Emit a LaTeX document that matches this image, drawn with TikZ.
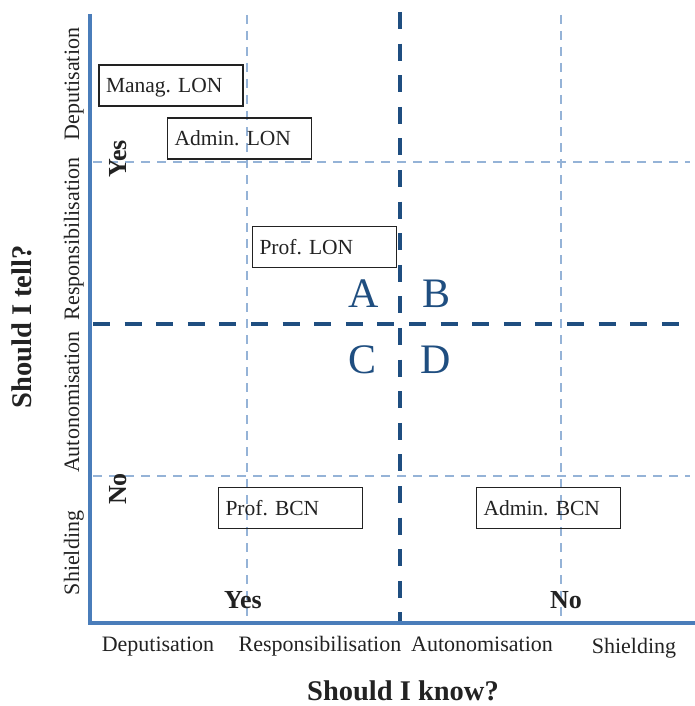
\documentclass[tikz,border=0pt]{standalone}
\usepackage{fontspec}
\setmainfont{Liberation Serif}
\frenchspacing
\definecolor{axisblue}{HTML}{4A7DBA}
\definecolor{gridblue}{HTML}{95B3D7}
\definecolor{splitblue}{HTML}{1F4E80}
\definecolor{ink}{HTML}{222222}
\begin{document}
\begin{tikzpicture}[x=1pt,y=-1pt,
  gridline/.style={gridblue, line width=2pt, dash pattern=on 9pt off 7pt},
  splitline/.style={splitblue, line width=4pt, dash pattern=on 17pt off 14.6pt},
  axisline/.style={axisblue, line width=4pt},
  lab/.style={font=\fontsize{22}{24}\selectfont, text=ink, inner sep=0pt, anchor=base},
  ans/.style={font=\fontsize{26}{28}\selectfont\bfseries, text=ink, inner sep=0pt, anchor=base},
  question/.style={font=\fontsize{28.5}{30}\selectfont\bfseries, text=ink, inner sep=0pt, anchor=base},
  quad/.style={font=\fontsize{42}{44}\selectfont, text=splitblue, inner sep=0pt, anchor=base},
  unit/.style={draw=ink, line width=1.3pt, minimum width=144pt, minimum height=41pt,
    text width=130pt, inner xsep=7pt, inner ysep=0pt, align=left,
    text height=20pt, text depth=5pt, font=\fontsize{21.5}{23}\selectfont\frenchspacing, text=ink}
]
\useasboundingbox (0,0) rectangle (695,706);

% light grid separating the four levels on each axis
\draw[gridline] (247,15) -- (247,621);
\draw[gridline] (561,15) -- (561,621);
\draw[gridline] (93,162) -- (690,162);
\draw[gridline] (93,476) -- (690,476);

% quadrant split
\draw[splitline] (400,12) -- (400,621);
\draw[splitline] (93,324) -- (682,324);

% axes
\draw[axisline] (90,14) -- (90,623) -- (695,623);

% units
\node[unit] (managlon) at (171,85.5) {Manag. LON};
\node[unit] (adminlon) at (239.5,138.5) {Admin. LON};
\node[unit] (proflon) at (324.5,247) {Prof. LON};
\node[unit] (profbcn) at (290.5,508) {Prof. BCN};
\node[unit] (adminbcn) at (548.5,508) {Admin. BCN};

% quadrant letters
\node[quad] (qa) at (364,307) {A};
\node[quad] (qb) at (436,307) {B};
\node[quad] (qc) at (363,373) {C};
\node[quad] (qd) at (436,373) {D};

% vertical axis
\node[lab, rotate=90] (ydep) at (79,84) {Deputisation};
\node[lab, rotate=90] (yresp) at (79,239) {Responsibilisation};
\node[lab, rotate=90] (yauto) at (79,402) {Autonomisation};
\node[lab, rotate=90] (yshield) at (79,553) {Shielding};
\node[ans, rotate=90] (yyes) at (126,159) {Yes};
\node[ans, rotate=90] (yno) at (126,489) {No};
\node[question, rotate=90] (ytitle) at (31,327) {Should I tell?};

% horizontal axis
\node[lab] (xdep) at (158,651) {Deputisation};
\node[lab] (xresp) at (320,651) {Responsibilisation};
\node[lab] (xauto) at (482,651) {Autonomisation};
\node[lab] (xshield) at (634,653) {Shielding};
\node[ans] (xyes) at (243,608) {Yes};
\node[ans] (xno) at (566,608) {No};
\node[question] (xtitle) at (403,700) {Should I know?};
\end{tikzpicture}
\end{document}
